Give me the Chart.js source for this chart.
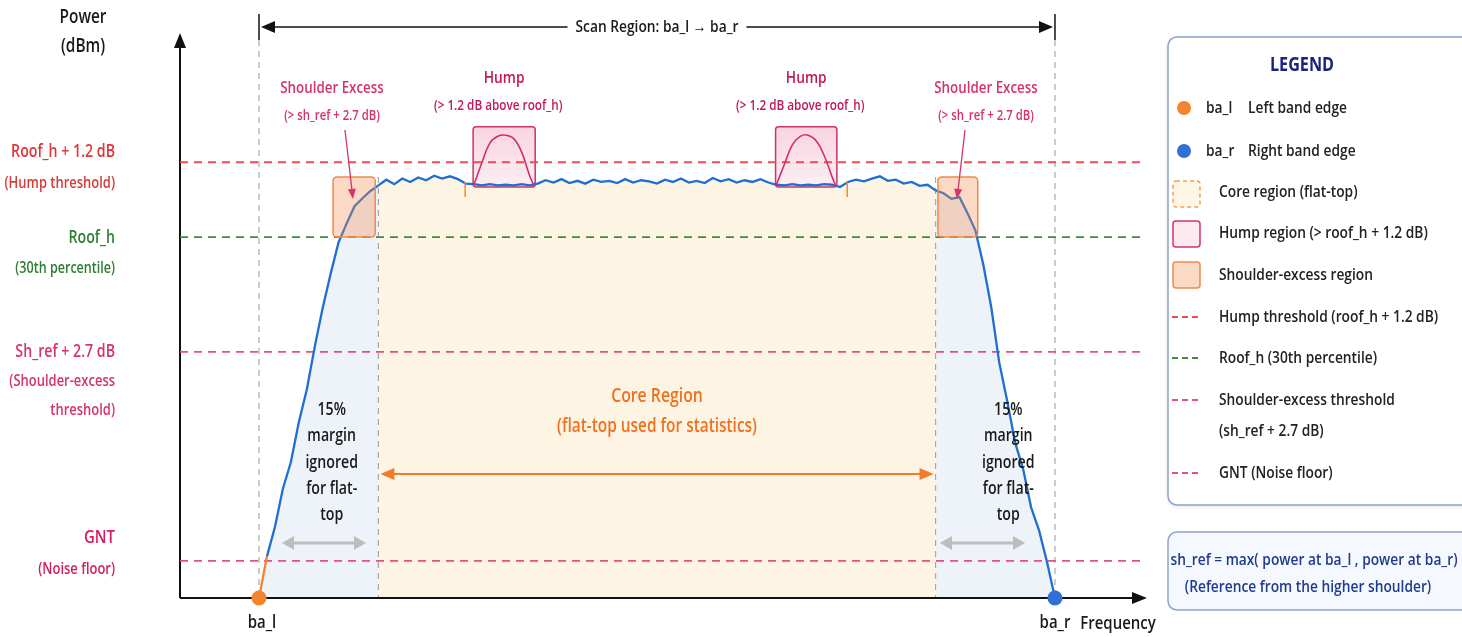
<!DOCTYPE html>
<html>
<head>
<meta charset="utf-8">
<script src="https://cdn.jsdelivr.net/npm/chart.js@4.4.1/dist/chart.umd.min.js"></script>
<style>
  html, body { margin: 0; padding: 0; background: #fff; }
  #c { display: block; }
</style>
</head>
<body>
<canvas id="c" width="1462" height="637"></canvas>
<script>
// --- Spectrum data (frequency: ba_l = 0 .. ba_r = 100, power in relative level units) ---
const spectrumPower = [
  0, 7.4, 12.6, 19.4, 24.1, 31.2, 37.0, 44.6, 51.5, 57.6,
  63.2, 66.5, 69.6, 71.0, 72.3, 73.3, 74.3, 73.5, 74.5, 73.9,
  74.7, 74.2, 75.0, 74.5, 74.9, 74.4, 73.6, 73.5, 73.3, 73.5,
  73.3, 73.4, 73.3, 73.5, 73.3, 73.6, 74.2, 73.8, 74.4, 73.7,
  74.1, 73.6, 74.3, 73.9, 74.1, 73.7, 74.4, 73.8, 74.2, 74.0,
  73.6, 74.3, 73.9, 74.5, 73.8, 74.1, 73.7, 74.6, 74.0, 74.4,
  73.8, 74.2, 73.9, 74.4, 73.8, 73.4, 73.3, 73.5, 73.3, 73.4,
  73.3, 73.5, 73.4, 73.0, 73.9, 74.3, 74.0, 74.5, 74.9, 74.1,
  74.3, 73.6, 73.9, 73.2, 73.4, 72.4, 71.9, 70.9, 71.2, 68.4,
  65.3, 59.2, 51.6, 41.8, 35.0, 27.6, 22.9, 16.1, 12.0, 6.4,
  0
];

// hump excursions above the hump threshold
const humpLeftFreq  = [27, 28, 29, 30, 31, 32, 33, 34, 34.5];
const humpLeftPower = [73.4, 77.3, 80.8, 82.0, 82.2, 81.6, 79.2, 75.0, 73.4];
const humpRightFreq  = [65, 66, 67, 68, 69, 70, 71, 72, 72.4];
const humpRightPower = [73.4, 77.0, 80.5, 82.0, 82.2, 81.2, 78.6, 74.8, 73.4];

// threshold levels
const thresholdNames  = ['Hump threshold', 'Roof_h', 'Shoulder-excess threshold', 'GNT'];
const thresholdLevels = [77.4, 64.1, 43.7, 6.6];
const thresholdColors = ['#ef4a52', '#3f8c3f', '#e0527f', '#e0527f'];

// regions (frequency units)
const scanRange = [0, 100];
const coreRange = [15, 85];
const humpRegions = [[26.9, 34.7], [64.9, 72.6]];
const humpBoxLevels = [73.0, 83.7];
const shoulderRegions = [[9.3, 14.6], [85.3, 90.3]];
const shoulderBoxLevels = [64.1, 74.8];
const edgeTicks = [25.9, 73.9];

// band edges
const bandEdgeFreq = [0, 100];
const bandEdgeColors = ['#f5842f', '#2f6fd6'];

const X_MIN = -9.925, X_MAX = 111.31;
const FONT = "'Open Sans', 'Noto Sans', sans-serif";
const SX = 0.81; // horizontal squeeze to mimic the condensed face

// --- drawing helpers ---
function txt(ctx, s, x, y, size, color, align = 'center', weight = '600', sx = SX) {
  ctx.save();
  ctx.font = `${weight} ${size}px ${FONT}`;
  ctx.fillStyle = color;
  ctx.textAlign = align;
  ctx.textBaseline = 'middle';
  ctx.translate(x, y);
  ctx.scale(sx, 1);
  ctx.fillText(s, 0, 0);
  ctx.restore();
}

function head(ctx, x, y, dir, len, half, color) {
  const ang = typeof dir === 'number' ? dir : { r: 0, l: Math.PI, d: Math.PI / 2, u: -Math.PI / 2 }[dir];
  ctx.save();
  ctx.translate(x, y);
  ctx.rotate(ang);
  ctx.fillStyle = color;
  ctx.beginPath();
  ctx.moveTo(0, 0);
  ctx.lineTo(-len, -half);
  ctx.lineTo(-len, half);
  ctx.closePath();
  ctx.fill();
  ctx.restore();
}

function hArrow(ctx, x1, x2, y, color, width, len, half) {
  ctx.strokeStyle = color;
  ctx.lineWidth = width;
  ctx.setLineDash([]);
  ctx.beginPath();
  ctx.moveTo(x1 + len - 1, y);
  ctx.lineTo(x2 - len + 1, y);
  ctx.stroke();
  head(ctx, x1, y, 'l', len, half, color);
  head(ctx, x2, y, 'r', len, half, color);
}

function roundBox(ctx, x, y, w, h, r, fill, stroke, lw, dash) {
  ctx.beginPath();
  ctx.roundRect(x, y, w, h, r);
  if (fill) { ctx.fillStyle = fill; ctx.fill(); }
  if (stroke) {
    ctx.setLineDash(dash || []);
    ctx.strokeStyle = stroke;
    ctx.lineWidth = lw;
    ctx.stroke();
    ctx.setLineDash([]);
  }
}

function vDash(ctx, x, y1, y2) {
  ctx.save();
  ctx.strokeStyle = '#a8a8a8';
  ctx.lineWidth = 1.2;
  ctx.setLineDash([6, 5]);
  ctx.beginPath();
  ctx.moveTo(x, y1);
  ctx.lineTo(x, y2);
  ctx.stroke();
  ctx.restore();
}

// --- diagram plugin ---
const diagram = {
  id: 'diagram',
  beforeDatasetsDraw(chart) {
    const { ctx, chartArea: a, scales: { x, y } } = chart;
    ctx.save();
    // hump region boxes
    humpRegions.forEach(([f0, f1]) => {
      const l = x.getPixelForValue(f0), r = x.getPixelForValue(f1);
      const t = y.getPixelForValue(humpBoxLevels[1]), b = y.getPixelForValue(humpBoxLevels[0]);
      const g = ctx.createLinearGradient(0, t, 0, b);
      g.addColorStop(0, 'rgba(236,120,160,0.32)');
      g.addColorStop(1, 'rgba(236,120,160,0.12)');
      roundBox(ctx, l, t, r - l, b - t, 3, g, '#c9346a', 1.5);
    });
    // band edge and core boundaries
    scanRange.forEach(f => vDash(ctx, x.getPixelForValue(f), 40, a.bottom));
    coreRange.forEach(f => vDash(ctx, x.getPixelForValue(f), y.getPixelForValue(shoulderBoxLevels[1]), a.bottom));
    // axes
    ctx.strokeStyle = '#111';
    ctx.lineWidth = 2;
    ctx.beginPath();
    ctx.moveTo(a.left, a.bottom);
    ctx.lineTo(a.left, a.top + 12);
    ctx.moveTo(a.left, a.bottom);
    ctx.lineTo(a.right - 12, a.bottom);
    ctx.stroke();
    head(ctx, a.left, a.top - 2, 'u', 15, 6, '#111');
    head(ctx, a.right + 2, a.bottom, 'r', 15, 6, '#111');
    ctx.restore();
  },
  afterDatasetsDraw(chart) {
    const { ctx, scales: { x, y } } = chart;
    ctx.save();
    // shoulder-excess boxes over the curve
    shoulderRegions.forEach(([f0, f1]) => {
      const l = x.getPixelForValue(f0), r = x.getPixelForValue(f1);
      const t = y.getPixelForValue(shoulderBoxLevels[1]), b = y.getPixelForValue(shoulderBoxLevels[0]);
      roundBox(ctx, l, t, r - l, b - t, 4, 'rgba(244,140,80,0.33)', '#f08a4b', 1.5);
    });
    // small orange tick marks at hump boundaries
    ctx.strokeStyle = '#ee8a3a';
    ctx.lineWidth = 1.5;
    edgeTicks.forEach(f => {
      const px = x.getPixelForValue(f);
      ctx.beginPath();
      ctx.moveTo(px, 182);
      ctx.lineTo(px, 197);
      ctx.stroke();
    });
    ctx.restore();
  },
  afterDraw(chart) {
    const { ctx, scales: { x, y } } = chart;
    ctx.save();
    const xl = x.getPixelForValue(scanRange[0]), xr = x.getPixelForValue(scanRange[1]);
    const cl = x.getPixelForValue(coreRange[0]), cr = x.getPixelForValue(coreRange[1]);

    // scan region bar
    ctx.strokeStyle = '#111';
    ctx.lineWidth = 1.5;
    ctx.beginPath();
    ctx.moveTo(xl, 14); ctx.lineTo(xl, 40);
    ctx.moveTo(xr, 14); ctx.lineTo(xr, 40);
    ctx.stroke();
    hArrow(ctx, xl + 2, xr - 2, 27, '#111', 1.5, 14, 6);
    const sTxt = 'Scan Region: ba_l \u2192 ba_r';
    ctx.font = `600 17px ${FONT}`;
    const sw = ctx.measureText(sTxt).width * SX;
    const sc = (xl + xr) / 2;
    ctx.fillStyle = '#fff';
    ctx.fillRect(sc - sw / 2 - 8, 16, sw + 16, 22);
    txt(ctx, sTxt, sc, 27, 17, '#1a1a1a');

    // axis titles
    txt(ctx, 'Power', 83, 18, 19, '#1a1a1a');
    txt(ctx, '(dBm)', 83, 47, 19, '#1a1a1a');
    txt(ctx, 'ba_l', xl + 3, 623, 18.5, '#1a1a1a');
    txt(ctx, 'ba_r', xr, 623, 18.5, '#1a1a1a');
    txt(ctx, 'Frequency', 1118, 624, 18.5, '#1a1a1a');

    // threshold labels on the left
    const lx = 115;
    const ly = thresholdLevels.map(v => y.getPixelForValue(v));
    txt(ctx, 'Roof_h + 1.2 dB', lx, ly[0] - 10, 17.5, '#e53238', 'right');
    txt(ctx, '(Hump threshold)', lx, ly[0] + 21, 16, '#d93a3a', 'right');
    txt(ctx, 'Roof_h', lx, ly[1] + 1, 17.5, '#2e7d32', 'right');
    txt(ctx, '(30th percentile)', lx, ly[1] + 31, 15.5, '#2e7d32', 'right');
    txt(ctx, 'Sh_ref + 2.7 dB', lx, ly[2], 17.5, '#d6336c', 'right');
    txt(ctx, '(Shoulder-excess', lx, ly[2] + 29, 16, '#d6336c', 'right');
    txt(ctx, 'threshold)', lx, ly[2] + 58, 16, '#d6336c', 'right');
    txt(ctx, 'GNT', lx, ly[3] - 23, 18.5, '#d81b60', 'right');
    txt(ctx, '(Noise floor)', lx, ly[3] + 9, 16, '#d81b60', 'right');

    // hump annotations
    humpRegions.forEach(([f0, f1]) => {
      const c = (x.getPixelForValue(f0) + x.getPixelForValue(f1)) / 2;
      txt(ctx, 'Hump', c, 78, 17, '#c2185b');
      txt(ctx, '(> 1.2 dB above roof_h)', c - 6, 106, 14.5, '#c2185b');
    });

    // shoulder-excess annotations with arrows
    const shoulderLabelX = [332, 986];
    const arrowFrom = [[345, 130], [965, 130]];
    const arrowTo = [[353, 199], [957, 199]];
    shoulderLabelX.forEach((c, i) => {
      txt(ctx, 'Shoulder Excess', c, 88, 16.5, '#d6336c');
      txt(ctx, '(> sh_ref + 2.7 dB)', c, 116, 14, '#d6336c');
      const [x0, y0] = arrowFrom[i], [x1, y1] = arrowTo[i];
      const ang = Math.atan2(y1 - y0, x1 - x0);
      ctx.strokeStyle = '#d6336c';
      ctx.lineWidth = 1.3;
      ctx.beginPath();
      ctx.moveTo(x0, y0);
      ctx.lineTo(x1 - 8 * Math.cos(ang), y1 - 8 * Math.sin(ang));
      ctx.stroke();
      head(ctx, x1, y1, ang, 10, 4, '#d6336c');
    });

    // core region
    const cc = (cl + cr) / 2;
    txt(ctx, 'Core Region', cc, 396, 19.5, '#f07020');
    txt(ctx, '(flat-top used for statistics)', cc, 427, 19, '#f07020');
    hArrow(ctx, cl + 2, cr - 2, 474, '#f37b2b', 2, 14, 6);

    // 15% margin notes
    const marginLines = ['15%', 'margin', 'ignored', 'for flat-', 'top'];
    [[xl, cl], [cr, xr]].forEach(([a0, a1]) => {
      const mc = (a0 + a1) / 2 + 13;
      marginLines.forEach((s, k) => txt(ctx, s, mc, 410 + k * 26.3, 17.5, '#1a1a1a'));
    });
    hArrow(ctx, 282, 366, 543, '#bdbdbd', 3, 12, 7);
    hArrow(ctx, 940, 1025, 543, '#bdbdbd', 3, 12, 7);

    // legend box
    ctx.save();
    ctx.shadowColor = 'rgba(60,80,120,0.18)';
    ctx.shadowBlur = 5;
    ctx.shadowOffsetY = 1;
    roundBox(ctx, 1168, 37, 310, 468, 9, '#fff');
    ctx.restore();
    roundBox(ctx, 1168, 37, 310, 468, 9, null, '#8fa3c8', 1.5);
    txt(ctx, 'LEGEND', 1302, 65, 20, '#1a237e', 'center', 'bold');

    const ix = 1184, tx = 1219, LS = 17;
    // band edge markers
    [[108, bandEdgeColors[0], 'ba_l', 'Left band edge'], [151, bandEdgeColors[1], 'ba_r', 'Right band edge']].forEach(([ry, col, a1, a2]) => {
      ctx.beginPath();
      ctx.arc(ix, ry, 7, 0, Math.PI * 2);
      ctx.fillStyle = col;
      ctx.fill();
      txt(ctx, a1, 1206, ry, LS, '#222', 'left');
      txt(ctx, a2, 1248, ry, LS, '#222', 'left');
    });
    // region swatches
    roundBox(ctx, 1173, 181, 27, 26, 3, '#fff6e6', '#f0a050', 1.5, [4, 3]);
    txt(ctx, 'Core region (flat-top)', tx, 192, LS, '#222', 'left');
    roundBox(ctx, 1173, 221, 27, 26, 3, '#fdeaf1', '#d6336c', 1.5);
    txt(ctx, 'Hump region (> roof_h + 1.2 dB)', tx, 233, LS, '#222', 'left');
    roundBox(ctx, 1173, 262, 27, 26, 3, '#fbd9c3', '#f08a4b', 1.5);
    txt(ctx, 'Shoulder-excess region', tx, 275, LS, '#222', 'left');
    // threshold line swatches
    const legendLineY = [317, 358, 400, 473];
    const legendLineText = [
      ['Hump threshold (roof_h + 1.2 dB)'],
      ['Roof_h (30th percentile)'],
      ['Shoulder-excess threshold', '(sh_ref + 2.7 dB)'],
      ['GNT (Noise floor)']
    ];
    legendLineY.forEach((ry, i) => {
      ctx.strokeStyle = thresholdColors[i];
      ctx.lineWidth = 2;
      ctx.setLineDash([6, 4]);
      ctx.beginPath();
      ctx.moveTo(1172, ry);
      ctx.lineTo(1200, ry);
      ctx.stroke();
      ctx.setLineDash([]);
      legendLineText[i].forEach((s, k) => txt(ctx, s, tx, ry + k * 31, LS, '#222', 'left'));
    });

    // sh_ref formula box
    roundBox(ctx, 1168, 532, 310, 78, 9, '#f5f8fe', '#8fa3c8', 1.5);
    txt(ctx, 'sh_ref = max( power at ba_l , power at ba_r)', 1314, 560, 17, '#1f3b8c');
    txt(ctx, '(Reference from the higher shoulder)', 1308, 587, 17, '#1f3b8c');
    ctx.restore();
  }
};

// --- datasets ---
const thresholdSets = thresholdLevels.map((lvl, i) => ({
  label: thresholdNames[i],
  data: [{ x: X_MIN, y: lvl }, { x: 110.7, y: lvl }],
  borderColor: thresholdColors[i],
  borderWidth: 1.8,
  borderDash: [8, 6],
  pointRadius: 0,
  fill: false,
  order: 3
}));

const spectrumSet = {
  label: 'Power',
  data: spectrumPower.map((p, i) => ({ x: i, y: p })),
  borderColor: '#1f6fd1',
  borderWidth: 2.3,
  backgroundColor: '#fdf4e3',
  pointRadius: 0,
  tension: 0,
  fill: 'origin',
  segment: {
    borderColor: c => c.p0.parsed.x < 1 ? '#f58233' : undefined,
    backgroundColor: c => (c.p0.parsed.x < coreRange[0] || c.p0.parsed.x >= coreRange[1]) ? '#eef2f9' : '#fdf4e3'
  },
  order: 2
};

const humpSets = [[humpLeftFreq, humpLeftPower], [humpRightFreq, humpRightPower]].map(([fx, py], k) => ({
  label: 'Hump ' + (k + 1),
  data: fx.map((f, i) => ({ x: f, y: py[i] })),
  borderColor: '#d1306a',
  borderWidth: 1.6,
  pointRadius: 0,
  tension: 0.4,
  fill: false,
  order: 1
}));

const edgeSet = {
  label: 'Band edges',
  data: bandEdgeFreq.map(f => ({ x: f, y: 0 })),
  showLine: false,
  pointRadius: 7.5,
  pointBackgroundColor: bandEdgeColors,
  pointBorderColor: bandEdgeColors,
  pointBorderWidth: 0,
  clip: false,
  order: 0
};

new Chart(document.getElementById('c'), {
  type: 'line',
  data: { datasets: [...thresholdSets, spectrumSet, ...humpSets, edgeSet] },
  options: {
    responsive: false,
    animation: false,
    layout: { padding: { left: 180, right: 317, top: 35, bottom: 39 } },
    scales: {
      x: { type: 'linear', min: X_MIN, max: X_MAX, display: false },
      y: { min: 0, max: 100, display: false }
    },
    plugins: {
      legend: { display: false },
      tooltip: { enabled: false },
      filler: { drawTime: 'beforeDatasetsDraw' }
    }
  },
  plugins: [diagram]
});
</script>
</body>
</html>
